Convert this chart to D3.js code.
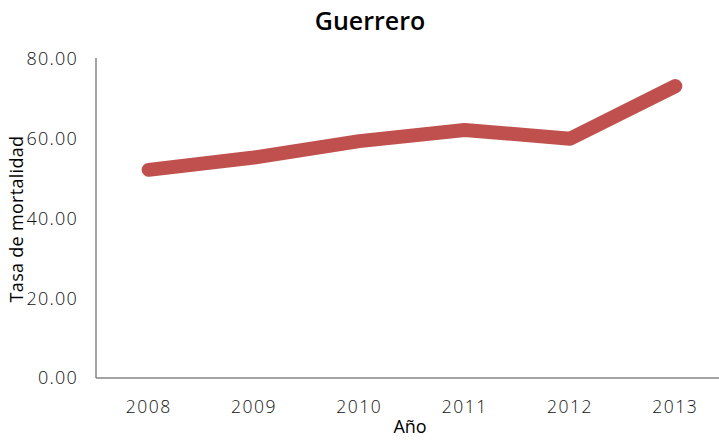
<!DOCTYPE html>
<html>
<head>
<meta charset="utf-8">
<script src="https://cdn.jsdelivr.net/npm/d3@7"></script>
<style>
  body { margin: 0; background: #fff; }
  svg text { font-family: "Open Sans", "DejaVu Sans", sans-serif; }
</style>
</head>
<body>
<svg id="chart" width="719" height="440"></svg>
<script>
var W = 719, H = 440;

// data
var years = ['2008', '2009', '2010', '2011', '2012', '2013'];
var tasa = [52.2, 55.3, 59.4, 62.2, 60.0, 73.2];
var yTicks = [0, 20, 40, 60, 80];

var padL = 96, padR = 728, padT = 59, padB = 378;

var svg = d3.select('#chart');

var x = d3.scaleBand().domain(years).range([padL, padR]);
var y = d3.scaleLinear().domain([0, 80]).range([padB, padT]);

// axis lines
svg.append('line')
  .attr('x1', padL).attr('x2', padL)
  .attr('y1', padT - 1).attr('y2', padB)
  .attr('stroke', '#868686').attr('stroke-width', 1.5);
svg.append('line')
  .attr('x1', padL).attr('x2', W)
  .attr('y1', padB).attr('y2', padB)
  .attr('stroke', '#868686').attr('stroke-width', 1.5);

// y tick labels
svg.selectAll('.ytick').data(yTicks).enter().append('text')
  .attr('class', 'ytick')
  .attr('x', 78)
  .attr('y', function(d) { return y(d); })
  .attr('dy', '0.35em')
  .attr('text-anchor', 'end')
  .attr('font-size', 18)
  .attr('font-weight', 300)
  .attr('letter-spacing', 1.2)
  .attr('fill', '#111')
  .text(function(d) { return d.toFixed(2); });

// x tick labels
svg.selectAll('.xtick').data(years).enter().append('text')
  .attr('class', 'xtick')
  .attr('x', function(d) { return x(d) + x.bandwidth() / 2; })
  .attr('y', 413)
  .attr('text-anchor', 'middle')
  .attr('font-size', 17.5)
  .attr('font-weight', 300)
  .attr('letter-spacing', 1.5)
  .attr('fill', '#111')
  .text(function(d) { return d; });

// the line
var line = d3.line()
  .x(function(d, i) { return x(years[i]) + x.bandwidth() / 2; })
  .y(function(d) { return y(d); });

svg.append('path')
  .datum(tasa)
  .attr('d', line)
  .attr('fill', 'none')
  .attr('stroke', '#c0504d')
  .attr('stroke-width', 14)
  .attr('stroke-linecap', 'round')
  .attr('stroke-linejoin', 'round');

// titles
svg.append('text')
  .attr('x', 370).attr('y', 30)
  .attr('text-anchor', 'middle')
  .attr('font-size', 25)
  .attr('font-weight', 600)
  .attr('fill', '#000')
  .text('Guerrero');

svg.append('text')
  .attr('x', 410).attr('y', 433)
  .attr('text-anchor', 'middle')
  .attr('font-size', 18)
  .attr('font-weight', 500)
  .attr('fill', '#000')
  .text('Año');

svg.append('text')
  .attr('transform', 'translate(23,219) rotate(-90)')
  .attr('text-anchor', 'middle')
  .attr('font-size', 18)
  .attr('font-weight', 500)
  .attr('letter-spacing', 0.3)
  .attr('fill', '#000')
  .text('Tasa de mortalidad');
</script>
</body>
</html>
